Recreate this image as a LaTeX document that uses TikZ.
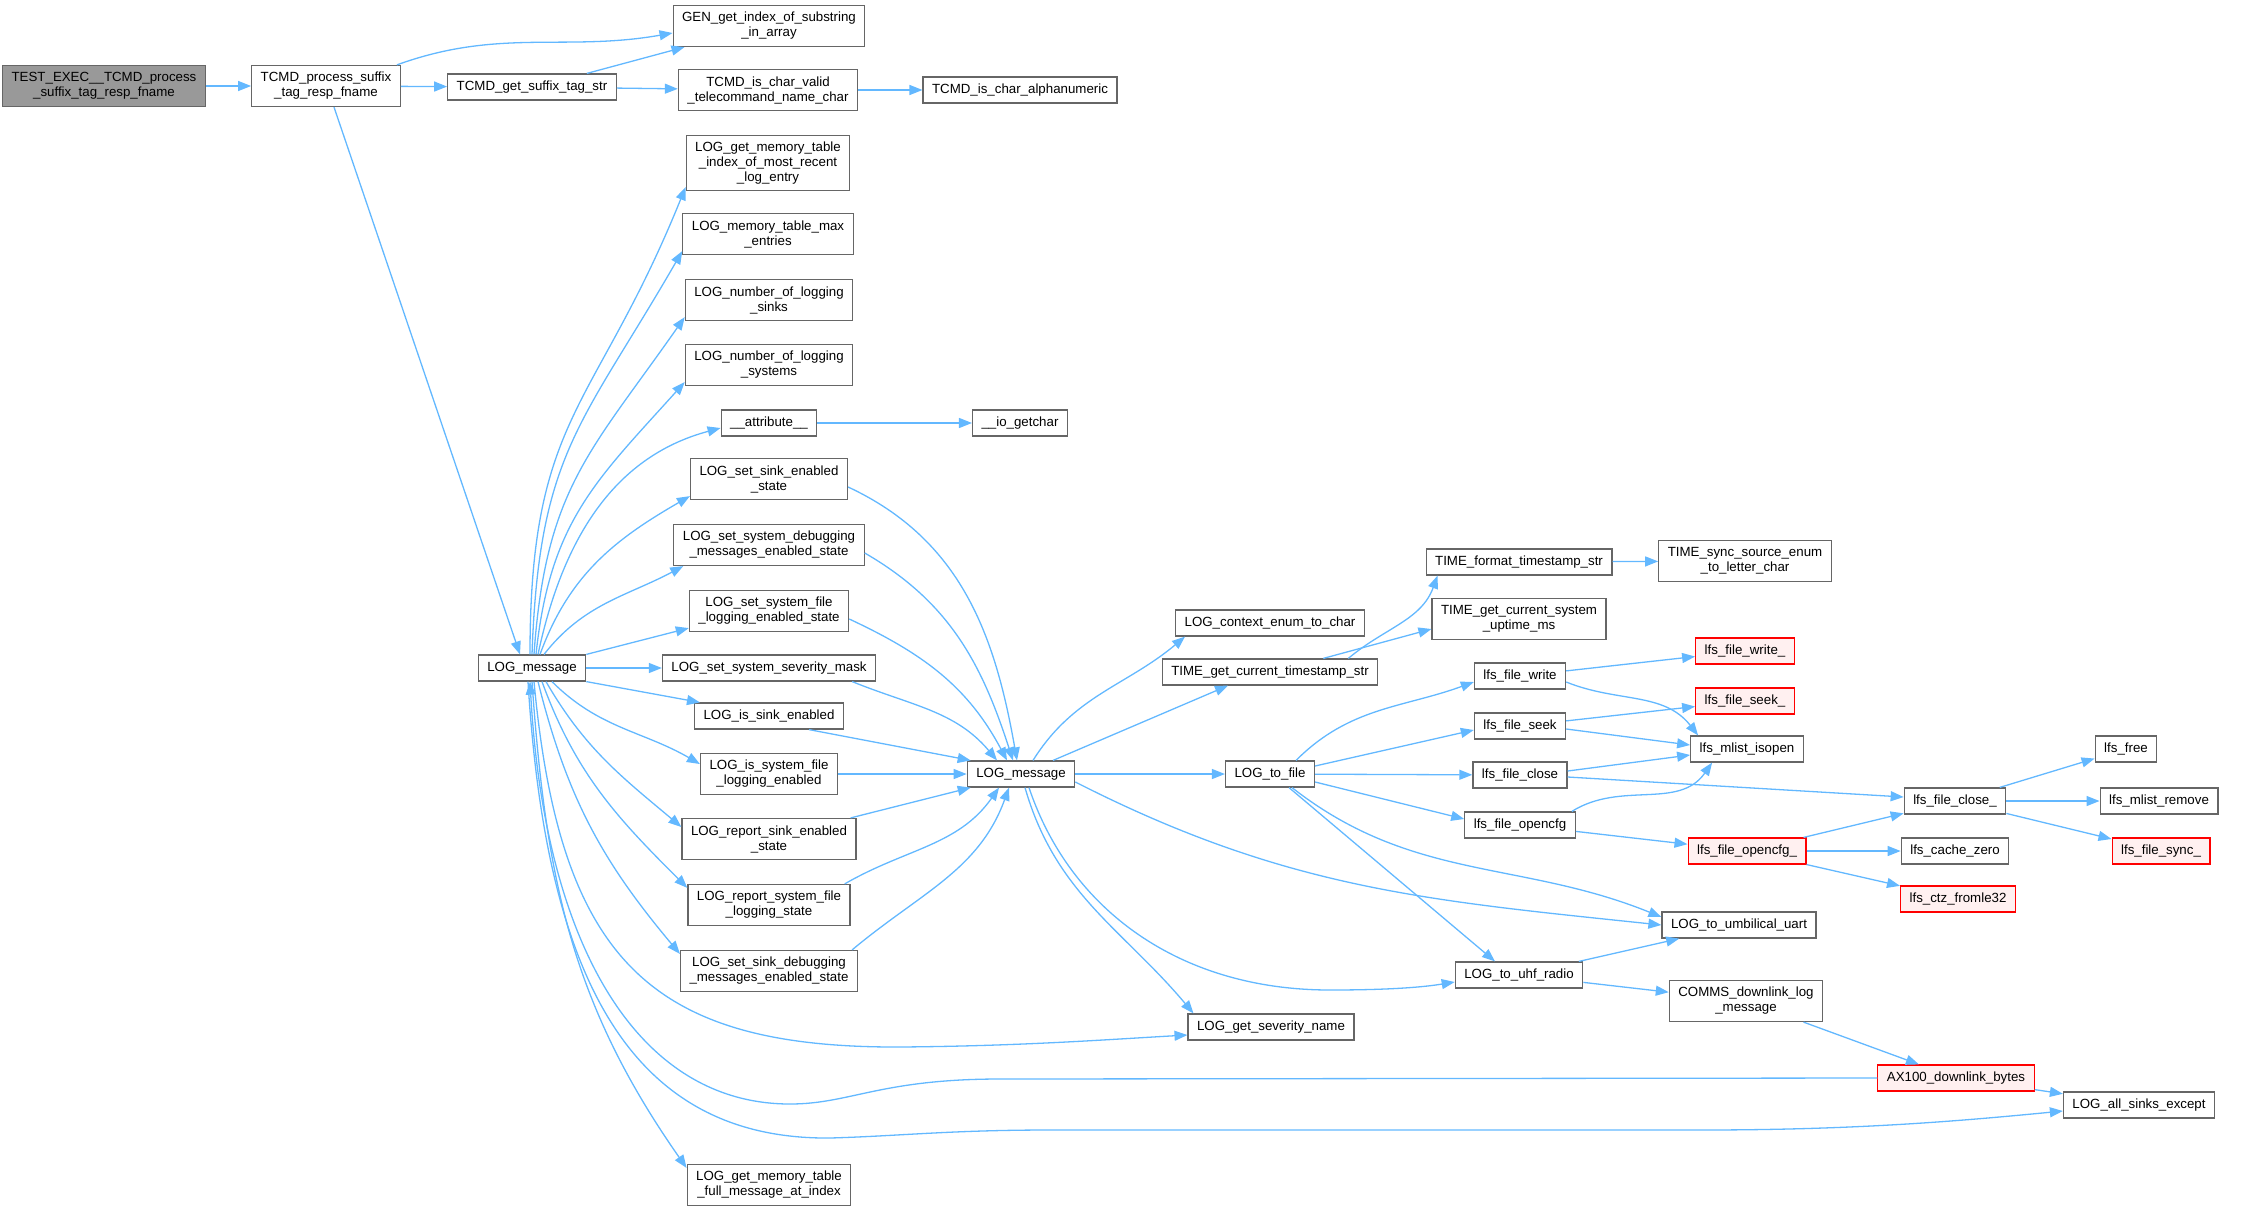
\documentclass[tikz,border=0pt]{standalone}
\usepackage{fontspec}
\setmainfont{Liberation Sans}
\usetikzlibrary{arrows.meta}
\definecolor{edgeblue}{HTML}{63B8FF}
\definecolor{boxgray}{HTML}{666666}
\definecolor{rootfill}{HTML}{999999}
\definecolor{extfill}{HTML}{FFF0F0}
\tikzset{
  fn/.style={draw=boxgray, line width=1.2pt, fill=white, inner xsep=9pt, inner ysep=0pt,
    minimum height=26pt, align=center, font=\fontsize{13.3}{15}\selectfont},
  two/.style={minimum height=41pt},
  three/.style={minimum height=55pt},
  root/.style={fill=rootfill},
  ext/.style={draw=red, fill=extfill},
  call/.style={draw=edgeblue, line width=1.3pt, -{Triangle[length=13pt,width=10pt]}},
}
\begin{document}
\begin{tikzpicture}[x=1pt,y=1pt]
  \useasboundingbox (0,0) rectangle (2242,-1213);

  \node[fn,two,root] (test) at (104,-86) {TEST\_EXEC\_\_TCMD\_process\\\_suffix\_tag\_resp\_fname};
  \node[fn,two] (tcmdproc) at (326,-86) {TCMD\_process\_suffix\\\_tag\_resp\_fname};
  \node[fn,two] (gen) at (769,-26) {GEN\_get\_index\_of\_substring\\\_in\_array};
  \node[fn] (getsuffix) at (532,-87) {TCMD\_get\_suffix\_tag\_str};
  \node[fn,two] (isvalid) at (768,-90) {TCMD\_is\_char\_valid\\\_telecommand\_name\_char};
  \node[fn] (alnum) at (1020,-90) {TCMD\_is\_char\_alphanumeric};

  \node[fn,three] (memidx) at (768,-163) {LOG\_get\_memory\_table\\\_index\_of\_most\_recent\\\_log\_entry};
  \node[fn,two] (memmax) at (768,-234) {LOG\_memory\_table\_max\\\_entries};
  \node[fn,two] (nsinks) at (769,-300) {LOG\_number\_of\_logging\\\_sinks};
  \node[fn,two] (nsys) at (769,-365) {LOG\_number\_of\_logging\\\_systems};
  \node[fn] (attr) at (769,-423) {\_\_attribute\_\_};
  \node[fn] (iogetchar) at (1020,-423) {\_\_io\_getchar};
  \node[fn,two] (setsink) at (769,-479) {LOG\_set\_sink\_enabled\\\_state};
  \node[fn,two] (setsysdbg) at (769,-545) {LOG\_set\_system\_debugging\\\_messages\_enabled\_state};
  \node[fn,two] (setsysfile) at (769,-611) {LOG\_set\_system\_file\\\_logging\_enabled\_state};
  \node[fn] (sevmask) at (769,-668) {LOG\_set\_system\_severity\_mask};
  \node[fn] (issink) at (769,-716) {LOG\_is\_sink\_enabled};
  \node[fn,two] (issysfile) at (769,-774) {LOG\_is\_system\_file\\\_logging\_enabled};
  \node[fn,two] (reportsink) at (769,-839) {LOG\_report\_sink\_enabled\\\_state};
  \node[fn,two] (reportsys) at (769,-905) {LOG\_report\_system\_file\\\_logging\_state};
  \node[fn,two] (setsinkdbg) at (769,-971) {LOG\_set\_sink\_debugging\\\_messages\_enabled\_state};
  \node[fn,two] (fullmsg) at (769,-1185) {LOG\_get\_memory\_table\\\_full\_message\_at\_index};

  \node[fn] (logmsgA) at (532,-668) {LOG\_message};
  \node[fn] (logmsgB) at (1021,-774) {LOG\_message};

  \node[fn] (ctxenum) at (1270,-623) {LOG\_context\_enum\_to\_char};
  \node[fn] (timestamp) at (1270,-672) {TIME\_get\_current\_timestamp\_str};
  \node[fn] (timefmt) at (1519,-562) {TIME\_format\_timestamp\_str};
  \node[fn,two] (timesync) at (1745,-561) {TIME\_sync\_source\_enum\\\_to\_letter\_char};
  \node[fn,two] (uptime) at (1519,-619) {TIME\_get\_current\_system\\\_uptime\_ms};
  \node[fn] (tofile) at (1270,-774) {LOG\_to\_file};
  \node[fn] (severity) at (1271,-1027) {LOG\_get\_severity\_name};

  \node[fn] (fwrite) at (1520,-676) {lfs\_file\_write};
  \node[fn,ext] (fwritex) at (1745,-651) {lfs\_file\_write\_};
  \node[fn] (fseek) at (1520,-726) {lfs\_file\_seek};
  \node[fn,ext] (fseekx) at (1745,-701) {lfs\_file\_seek\_};
  \node[fn] (isopen) at (1747,-749) {lfs\_mlist\_isopen};
  \node[fn] (fclose) at (1520,-775) {lfs\_file\_close};
  \node[fn] (opencfg) at (1520,-825) {lfs\_file\_opencfg};
  \node[fn,ext] (opencfgx) at (1747,-851) {lfs\_file\_opencfg\_};
  \node[fn] (fclosex) at (1955,-801) {lfs\_file\_close\_};
  \node[fn] (free) at (2126,-749) {lfs\_free};
  \node[fn] (mremove) at (2159,-801) {lfs\_mlist\_remove};
  \node[fn,ext] (fsyncx) at (2161,-851) {lfs\_file\_sync\_};
  \node[fn] (cachezero) at (1955,-851) {lfs\_cache\_zero};
  \node[fn,ext] (ctz) at (1958,-899) {lfs\_ctz\_fromle32};

  \node[fn] (umbilical) at (1739,-925) {LOG\_to\_umbilical\_uart};
  \node[fn] (uhf) at (1519,-975) {LOG\_to\_uhf\_radio};
  \node[fn,two] (commsdl) at (1746,-1001) {COMMS\_downlink\_log\\\_message};
  \node[fn,ext] (ax100) at (1956,-1078) {AX100\_downlink\_bytes};
  \node[fn] (allsinks) at (2139,-1105) {LOG\_all\_sinks\_except};

  % top row
  \draw[call] (test) -- (tcmdproc);
  \draw[call] ([xshift=-4pt]tcmdproc.north east) to[out=20,in=190] ([yshift=-7pt]gen.west);
  \draw[call] (tcmdproc) -- (getsuffix);
  \draw[call] ([xshift=8pt]tcmdproc.south) -- ([xshift=-12pt]logmsgA.north);
  \draw[call] ([xshift=-30pt]getsuffix.north east) -- ([xshift=12pt]gen.south west);
  \draw[call] (getsuffix) -- (isvalid);
  \draw[call] (isvalid) -- (alnum);
  \draw[call] (attr) -- (iogetchar);

  % LOG_message fan out
  \draw[call] ([xshift=-2pt]logmsgA.north) to[out=90,in=248,looseness=1.25] ([yshift=4pt]memidx.south west);
  \draw[call] (logmsgA.north) to[out=88,in=240,looseness=1.2] ([yshift=4pt]memmax.south west);
  \draw[call] ([xshift=2pt]logmsgA.north) to[out=86,in=235,looseness=1.15] ([yshift=4pt]nsinks.south west);
  \draw[call] ([xshift=4pt]logmsgA.north) to[out=84,in=228,looseness=1.1] ([yshift=4pt]nsys.south west);
  \draw[call] ([xshift=6pt]logmsgA.north) to[out=78,in=195] ([yshift=-5pt]attr.west);
  \draw[call] ([xshift=8pt]logmsgA.north) to[out=70,in=210] ([yshift=4pt]setsink.south west);
  \draw[call] ([xshift=12pt]logmsgA.north) to[out=52,in=208] ([xshift=10pt]setsysdbg.south west);
  \draw[call] (logmsgA.north east) -- ([yshift=4pt]setsysfile.south west);
  \draw[call] (logmsgA) -- (sevmask);
  \draw[call] (logmsgA.south east) -- ([xshift=6pt]issink.north west);
  \draw[call] ([xshift=20pt]logmsgA.south) to[out=-45,in=150] ([yshift=10pt]issysfile.west);
  \draw[call] ([xshift=14pt]logmsgA.south) to[out=-60,in=140] ([yshift=12pt]reportsink.west);
  \draw[call] ([xshift=10pt]logmsgA.south) to[out=-70,in=135] ([yshift=-4pt]reportsys.north west);
  \draw[call] ([xshift=6pt]logmsgA.south) to[out=-76,in=130] ([yshift=-4pt]setsinkdbg.north west);
  \draw[call] (logmsgA.south) to[out=-86,in=125] ([yshift=-4pt]fullmsg.north west);
  \draw[call] ([xshift=2pt]logmsgA.south) .. controls (560,-960) and (650,-1048) .. (900,-1047)
    .. controls (1020,-1046) and (1100,-1040) .. ([yshift=-8pt]severity.west);
  \draw[call] ([xshift=-4pt]logmsgA.south) .. controls (545,-960) and (620,-1140) .. (830,-1138)
    .. controls (900,-1136) and (950,-1130) .. (1050,-1130) -- (1700,-1130)
    .. controls (1850,-1130) and (1950,-1122) .. ([yshift=-6pt]allsinks.west);
  \draw[call] (ax100.west) -- (1000,-1079) .. controls (880,-1079) and (850,-1104) .. (790,-1104)
    .. controls (640,-1104) and (545,-950) .. ([xshift=-2pt]logmsgA.south);

  % into the second LOG_message
  \draw[call] ([yshift=-8pt]setsink.east) to[out=-25,in=100] ([xshift=-4pt]logmsgB.north);
  \draw[call] ([yshift=-8pt]setsysdbg.east) to[out=-30,in=108] ([xshift=-8pt]logmsgB.north);
  \draw[call] ([yshift=-8pt]setsysfile.east) to[out=-25,in=118] ([xshift=-14pt]logmsgB.north);
  \draw[call] ([xshift=-24pt]sevmask.south east) to[out=-22,in=130] ([xshift=-24pt]logmsgB.north);
  \draw[call] ([xshift=-35pt]issink.south east) -- ([xshift=4pt]logmsgB.north west);
  \draw[call] (issysfile) -- (logmsgB);
  \draw[call] ([xshift=-6pt]reportsink.north east) -- ([xshift=4pt]logmsgB.south west);
  \draw[call] ([xshift=-6pt]reportsys.north east) to[out=30,in=-125] ([xshift=-22pt]logmsgB.south);
  \draw[call] ([xshift=-6pt]setsinkdbg.north east) to[out=40,in=-110] ([xshift=-12pt]logmsgB.south);

  % out of the second LOG_message
  \draw[call] ([xshift=12pt]logmsgB.north) to[out=58,in=220] ([xshift=10pt]ctxenum.south west);
  \draw[call] ([xshift=32pt]logmsgB.north) -- ([xshift=-42pt]timestamp.south);
  \draw[call] (logmsgB) -- (tofile);
  \draw[call] ([yshift=-8pt]logmsgB.east) to[out=-27,in=174] (umbilical.west);
  \draw[call] ([xshift=8pt]logmsgB.south) .. controls (1070,-910) and (1180,-990) .. (1330,-990)
    .. controls (1400,-990) and (1430,-986) .. ([yshift=-7pt]uhf.west);
  \draw[call] ([xshift=4pt]logmsgB.south) to[out=-74,in=130] ([xshift=6pt]severity.north west);

  % time
  \draw[call] ([xshift=-30pt]timestamp.north east) to[out=40,in=250] ([xshift=12pt]timefmt.south west);
  \draw[call] ([xshift=-55pt]timestamp.north east) -- ([yshift=-10pt]uptime.west);
  \draw[call] (timefmt) -- (timesync);

  % file system
  \draw[call] ([xshift=26pt]tofile.north) to[out=45,in=200] ([yshift=-6pt]fwrite.west);
  \draw[call] ([yshift=8pt]tofile.east) -- ([yshift=-4pt]fseek.west);
  \draw[call] (tofile) -- (fclose);
  \draw[call] ([yshift=-8pt]tofile.east) -- ([yshift=6pt]opencfg.west);
  \draw[call] ([xshift=22pt]tofile.south) to[out=-38,in=158] ([yshift=8pt]umbilical.west);
  \draw[call] ([xshift=19pt]tofile.south) -- ([xshift=-24pt]uhf.north);

  \draw[call] (fwrite) -- (fwritex);
  \draw[call] ([yshift=-6pt]fwrite.east) to[out=-22,in=128] ([xshift=8pt]isopen.north west);
  \draw[call] (fseek) -- (fseekx);
  \draw[call] ([yshift=-3pt]fseek.east) -- ([yshift=4pt]isopen.west);
  \draw[call] ([yshift=4pt]fclose.east) -- ([yshift=-6pt]isopen.west);
  \draw[call] ([yshift=-2pt]fclose.east) -- ([yshift=4pt]fclosex.west);
  \draw[call] ([xshift=-4pt]opencfg.north east) to[out=32,in=235] ([xshift=22pt]isopen.south west);
  \draw[call] (opencfg) -- (opencfgx);
  \draw[call] (opencfgx) -- (fclosex);
  \draw[call] (opencfgx) -- (cachezero);
  \draw[call] (opencfgx) -- (ctz);
  \draw[call] (fclosex) -- (free);
  \draw[call] (fclosex) -- (mremove);
  \draw[call] (fclosex) -- (fsyncx);

  % radio
  \draw[call] (uhf) -- (umbilical);
  \draw[call] (uhf) -- (commsdl);
  \draw[call] (commsdl) -- (ax100);
  \draw[call] (ax100) -- (allsinks);
\end{tikzpicture}
\end{document}
